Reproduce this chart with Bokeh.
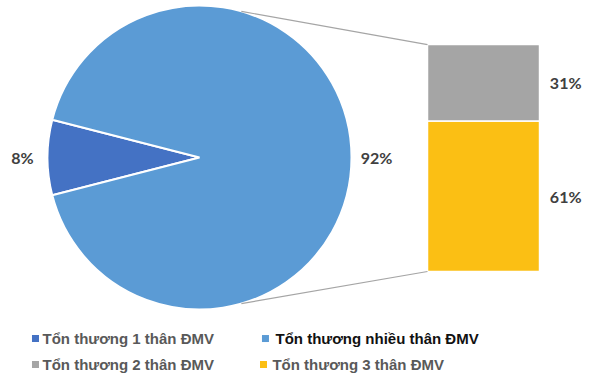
import math
from bokeh.plotting import figure
from bokeh.models import Range1d, ColumnDataSource
from bokeh.core.properties import value
from bokeh.embed import file_html
from bokeh.resources import INLINE

# ---- data ----
pie_labels = ["Tổn thương 1 thân ĐMV", "Tổn thương nhiều thân ĐMV"]
pie_values = [8, 92]
bar_labels = ["Tổn thương 3 thân ĐMV", "Tổn thương 2 thân ĐMV"]  # bottom -> top
bar_values = [61, 31]

# ---- styles ----
pie_colors = ["#4472C4", "#5B9BD5"]
bar_colors = ["#FBBF14", "#A5A5A5"]
label_color = "#404040"
W, H = 584, 373
PX = 152.0                  # pixels per data unit
cx_px, cy_px = 199.0, 157.0  # pie centre inside the frame

p = figure(width=W, height=H, output_backend="svg", toolbar_location=None,
           x_range=Range1d(-cx_px / PX, (W - cx_px) / PX),
           y_range=Range1d(-(H - cy_px) / PX, cy_px / PX),
           min_border=0)
p.axis.visible = False
p.grid.visible = False
p.outline_line_color = None

# ---- pie (first slice centred on the left) ----
total = sum(pie_values)
angles = [v / total * 2 * math.pi for v in pie_values]
start = math.pi - angles[0] / 2
starts, ends, mids = [], [], []
for a in angles:
    starts.append(start)
    ends.append(start + a)
    mids.append(start + a / 2)
    start += a
pie_src = ColumnDataSource(dict(start=starts, end=ends, color=pie_colors))
p.wedge(x=0, y=0, radius=1.0, start_angle="start", end_angle="end",
        fill_color="color", line_color="white", line_width=2, source=pie_src)

lr = 1.165
p.text(x=[lr * math.cos(m) for m in mids], y=[lr * math.sin(m) for m in mids],
       text=[f"{v}%" for v in pie_values], text_font=value("Lato"),
       text_font_style="bold", text_font_size="16px", text_color=label_color,
       text_align="center", text_baseline="middle")

# ---- stacked bar for the "many" slice ----
bar_left, bar_right = 1.5, 2.237
bar_bottom = -0.75
unit = 1.493 / sum(bar_values)
bottoms, tops = [], []
b = bar_bottom
for v in bar_values:
    bottoms.append(b)
    tops.append(b + v * unit)
    b += v * unit
bar_src = ColumnDataSource(dict(bottom=bottoms, top=tops, color=bar_colors))
p.quad(left=bar_left, right=bar_right, bottom="bottom", top="top",
       fill_color="color", line_color="white", line_width=1.5, source=bar_src)
p.text(x=[bar_right + 0.068] * len(bar_values),
       y=[(a + c) / 2 for a, c in zip(bottoms, tops)],
       text=[f"{v}%" for v in bar_values], text_font=value("Lato"),
       text_font_style="bold", text_font_size="16px", text_color=label_color,
       text_align="left", text_baseline="middle")

# ---- connector lines ----
ca = math.radians(74)
p.segment(x0=[math.cos(ca), math.cos(-ca)], y0=[math.sin(ca), math.sin(-ca)],
          x1=[bar_left, bar_left], y1=[tops[-1], bottoms[0]],
          line_color="#A5A5A5", line_width=1.2)

# ---- legend ----
leg_names = [pie_labels[0], pie_labels[1], bar_labels[1], bar_labels[0]]
leg_colors = [pie_colors[0], pie_colors[1], bar_colors[1], bar_colors[0]]
leg_text_colors = ["#595959", "#111111", "#595959", "#595959"]
row1, row2 = -1.191, -1.362
mk_x = [-1.079, 0.434, -1.079, 0.421]
mk_y = [row1, row1, row2, row2]
tx_x = [-1.033, 0.50, -1.033, 0.48]
p.scatter(x=mk_x, y=mk_y, marker="square", size=7, fill_color=leg_colors,
          line_color=None)
p.text(x=tx_x, y=mk_y, text=leg_names, text_font=value("Liberation Sans"),
       text_font_style="bold", text_font_size="15px", text_color=leg_text_colors,
       text_align="left", text_baseline="middle")

open("out.html", "w").write(file_html(p, INLINE))
